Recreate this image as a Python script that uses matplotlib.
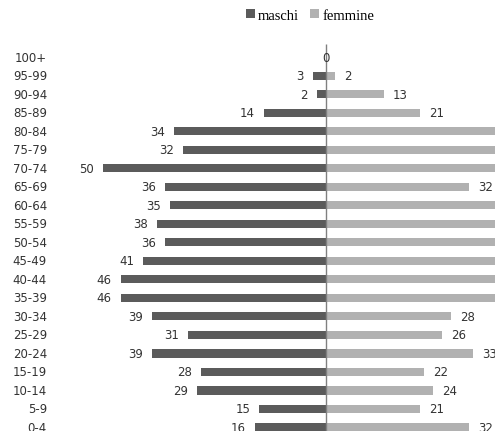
import matplotlib
matplotlib.use("Agg")
import matplotlib.pyplot as plt
from matplotlib.patches import Patch
import matplotlib.transforms as mtransforms

age_groups = ["0-4", "5-9", "10-14", "15-19", "20-24", "25-29", "30-34", "35-39",
              "40-44", "45-49", "50-54", "55-59", "60-64", "65-69", "70-74",
              "75-79", "80-84", "85-89", "90-94", "95-99", "100+"]
maschi = [16, 15, 29, 28, 39, 31, 39, 46, 46, 41, 36, 38, 35, 36, 50, 32, 34, 14, 2, 3, 0]
femmine = [32, 21, 24, 22, 33, 26, 28, 44, 46, 42, 40, 44, 42, 32, 60, 45, 48, 21, 13, 2, 0]

DARK = "#5b5b5b"
LIGHT = "#b1b1b1"

W, H = 495, 439
fig = plt.figure(figsize=(W / 100, H / 100), dpi=100)
ax = fig.add_axes([0, 7 / H, 1, 432 / H])
XMAX = 37.9
ax.set_xlim(-73.1, XMAX)
ax.set_ylim(-0.189, 23.14)
ax.axis("off")

y = list(range(len(age_groups)))
bh = 0.44
ax.barh(y, [-m for m in maschi], height=bh, color=DARK, linewidth=0)
ax.barh(y, femmine, height=bh, color=LIGHT, linewidth=0)
ax.vlines(0, -0.3, 20.7, color="#808080", linewidth=1.0, zorder=3)

num_font = dict(family="DejaVu Sans", fontsize=8.5, color="#333333", clip_on=True)
off_l = mtransforms.offset_copy(ax.transData, fig=fig, x=-9, y=0, units="dots")
off_r = mtransforms.offset_copy(ax.transData, fig=fig, x=9, y=0, units="dots")
for yi, m, f in zip(y, maschi, femmine):
    if m == 0 and f == 0:
        ax.text(0, yi, "0", ha="center", va="center", **num_font)
        continue
    ax.text(-m, yi, str(m), ha="right", va="center", transform=off_l, **num_font)
    if f < XMAX - 3:
        ax.text(f, yi, str(f), ha="left", va="center", transform=off_r, **num_font)

lab_tr = mtransforms.blended_transform_factory(ax.transAxes, ax.transData)
for yi, lab in zip(y, age_groups):
    ax.text(47 / W, yi, lab, ha="right", va="center", transform=lab_tr,
            family="DejaVu Sans", fontsize=8.5, color="#333333", clip_on=True)

handles = [Patch(facecolor=DARK, label="maschi"), Patch(facecolor=LIGHT, label="femmine")]
fig.legend(handles=handles, loc="center", bbox_to_anchor=(310 / W, 1 - 16 / H),
           ncol=2, frameon=False, prop={"family": "Liberation Serif", "size": 10.5},
           handlelength=0.6, handleheight=0.6, handletextpad=0.2, columnspacing=0.8,
           borderpad=0)

fig.savefig("out.png", dpi=100)
